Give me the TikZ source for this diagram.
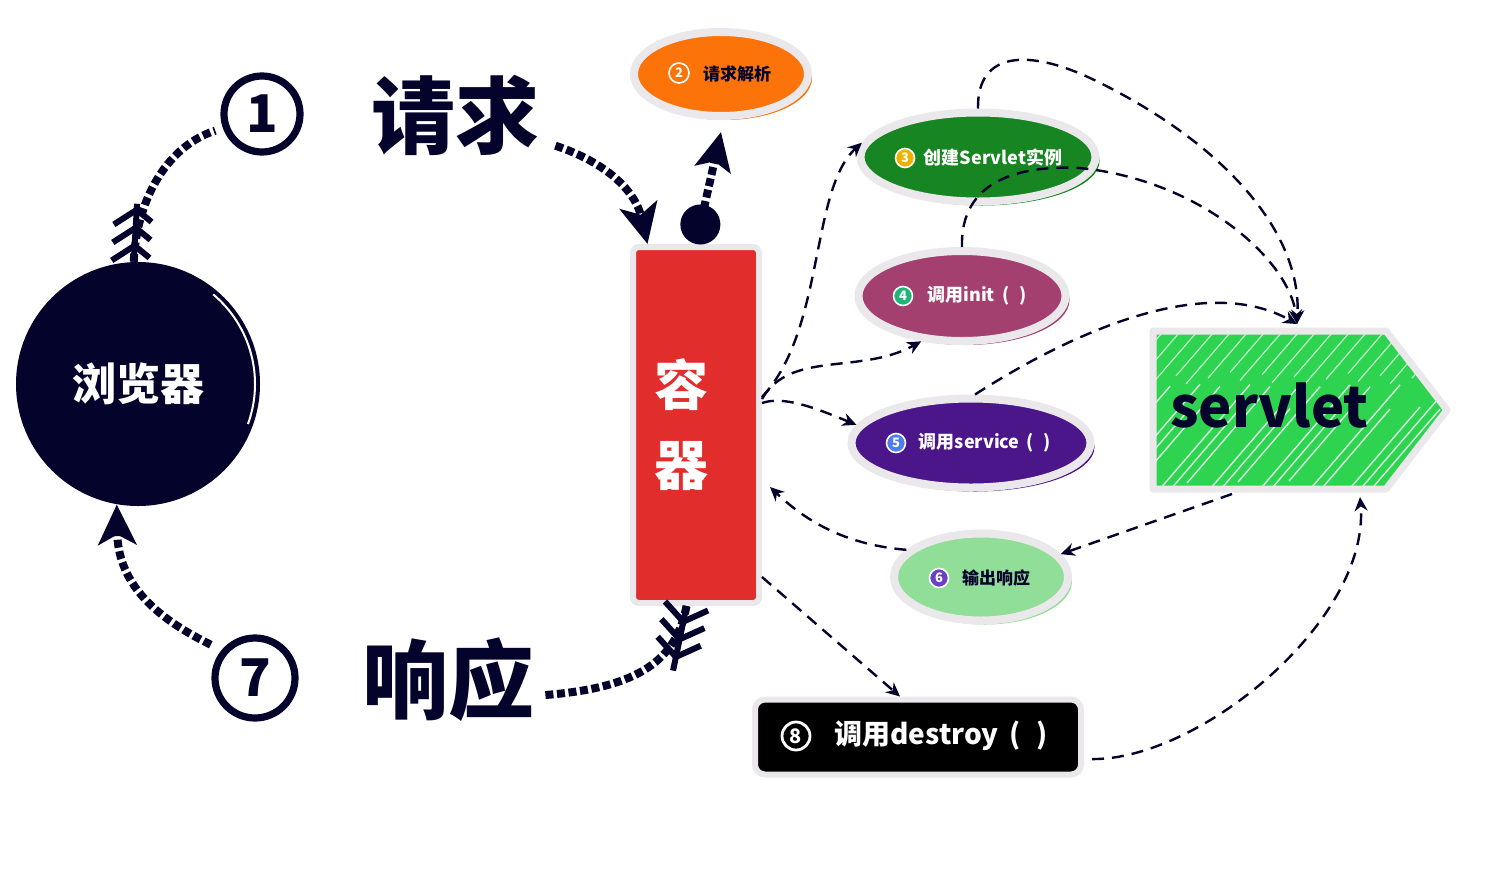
\documentclass[tikz,border=0pt]{standalone}
\usepackage{fontspec}
\setmainfont{Noto Sans CJK SC}
\usetikzlibrary{arrows.meta,shapes.geometric,decorations.markings}
\definecolor{navy}{HTML}{03032B}
\definecolor{ringgray}{HTML}{EBE8EC}
\definecolor{contred}{HTML}{E22D2D}
\definecolor{orangeA}{HTML}{FB7309}
\definecolor{greenA}{HTML}{178521}
\definecolor{plumA}{HTML}{A3406F}
\definecolor{purpleA}{HTML}{4B168A}
\definecolor{mintA}{HTML}{90DE98}
\definecolor{servgreen}{HTML}{2ED450}
\definecolor{badgeyellow}{HTML}{EDB100}
\definecolor{badgeteal}{HTML}{1FB574}
\definecolor{badgeblue}{HTML}{4D7DEF}
\definecolor{badgeviolet}{HTML}{6A40C4}
\newcommand{\parpair}{\hspace{0.4em}(\hspace{0.55em})}
\tikzset{
  ringed/.style={draw=ringgray, line width=4pt},
  ellnode/.style={ellipse, ringed, inner sep=0pt},
  thindash/.style={draw=navy, line width=1.2pt, dash pattern=on 6pt off 4pt, -{Stealth[length=7pt,width=6.5pt]}},
  fatdots/.style={draw=navy, line width=4pt, dash pattern=on 4pt off 1.8pt},
  fletch/.style={postaction={decorate, decoration={markings, mark=at position 1pt with {
      \draw[-, solid, navy, line width=3pt] (-1pt,0pt) -- (32pt,0pt);
      \foreach \d/\e in {7/-1,16/8,25/17}{\draw[-, solid, navy, line width=3pt] (\e pt,11pt) -- (\d pt,0pt) -- (\e pt,-11pt);}
  }}}},
  badge/.style={circle, draw=white, line width=0.8pt, minimum size=9.5pt, inner sep=0pt, text=white, font=\bfseries\fontsize{6.5}{6.5}\selectfont},
  lbl/.style={inner sep=0pt, font=\bfseries\fontsize{8.5}{9}\selectfont},
  bignum/.style={circle, draw=navy, line width=3.6pt, minimum size=38pt, inner sep=0pt, text=navy, font=\bfseries\fontsize{26}{26}\selectfont},
  bigword/.style={inner sep=0pt, text=navy, font=\bfseries\fontsize{42}{42}\selectfont},
}
\begin{document}
\begin{tikzpicture}[x=0.5pt,y=-0.5pt]
\fill[white] (0,0) rectangle (1492,868);
\useasboundingbox (0,0) rectangle (1492,868);

% browser
\node[circle, fill=navy, minimum size=122pt, inner sep=0pt, text=white, font=\bfseries\fontsize{22}{22}\selectfont] (brow) at (138,384) {浏览器};
\draw[white, line width=1pt] (138,384) ++(-50:117) arc (-50:20:117);

% container
\node[rectangle, fill=contred, draw=ringgray, line width=3pt, rounded corners=3pt, minimum width=63pt, minimum height=178pt, inner sep=0pt] (cont) at (696,425) {};
\node[align=center, text=white, inner sep=0pt, font=\bfseries\fontsize{27}{40}\selectfont] (conttxt) at (681,425) {容\\器};

% ellipses (offset shadow fills first)
\fill[orangeA] (725,78) ellipse [x radius=43.5pt, y radius=21pt];
\node[ellnode, fill=orangeA, minimum width=87pt, minimum height=42pt] (n2) at (721,74) {};
\fill[greenA] (982,161) ellipse [x radius=58.75pt, y radius=22.25pt];
\node[ellnode, fill=greenA, minimum width=117.5pt, minimum height=44.5pt] (n3) at (978,157) {};
\fill[plumA] (966,300) ellipse [x radius=51.75pt, y radius=22.5pt];
\node[ellnode, fill=plumA, minimum width=103.5pt, minimum height=45pt] (n4) at (962,296) {};
\fill[purpleA] (975,447) ellipse [x radius=59.75pt, y radius=22.25pt];
\node[ellnode, fill=purpleA, minimum width=119.5pt, minimum height=44.5pt] (n5) at (971,443) {};
\fill[mintA] (985,581) ellipse [x radius=43.5pt, y radius=21.75pt];
\node[ellnode, fill=mintA, minimum width=87pt, minimum height=43.5pt] (n6) at (981,577) {};
\node[rectangle, fill=black, draw=ringgray, line width=3pt, rounded corners=5pt, minimum width=163pt, minimum height=37.5pt, inner sep=0pt] (n8) at (918,737) {};

% badges and labels
\node[badge, minimum size=10pt] (b2) at (679,73) {2};
\node[lbl, text=navy] (t2) at (737,74) {请求解析};
\node[badge, fill=badgeyellow] (b3) at (905,158) {3};
\node[lbl, text=white, font=\bfseries\fontsize{9}{9}\selectfont] (t3) at (993,158) {创建Servlet实例};
\node[badge, fill=badgeteal] (b4) at (903,296) {4};
\node[lbl, text=white, font=\bfseries\fontsize{9}{9}\selectfont] (t4) at (977,296) {调用init\parpair};
\node[badge, fill=badgeblue] (b5) at (896,443) {5};
\node[lbl, text=white, font=\bfseries\fontsize{9}{9}\selectfont] (t5) at (985,443) {调用service\parpair};
\node[badge, fill=badgeviolet] (b6) at (939,578) {6};
\node[lbl, text=navy] (t6) at (996,578) {输出响应};
\node[badge, minimum size=14pt, line width=1.4pt, font=\bfseries\fontsize{10}{10}\selectfont] (b8) at (796,736) {8};
\node[lbl, text=white, font=\bfseries\fontsize{14}{15}\selectfont] (t8) at (941,736) {调用destroy\parpair};

% servlet arrow shape
\coordinate (sv1) at (1153,331);
\coordinate (sv2) at (1386,331);
\coordinate (sv3) at (1447,410);
\coordinate (sv4) at (1386,489);
\coordinate (sv5) at (1153,489);
\fill[servgreen] (sv1) -- (sv2) -- (sv3) -- (sv4) -- (sv5) -- cycle;
\begin{scope}
\clip (sv1) -- (sv2) -- (sv3) -- (sv4) -- (sv5) -- cycle;
\foreach \i in {0,...,30}{
  \draw[white, line width=0.7pt, opacity=0.8] ({1000+\i*17},{500-mod(\i*7,20)}) -- ++({60+mod(\i*13,40)},{-70-mod(\i*13,40)*1.15});
  \draw[white, line width=0.6pt, opacity=0.7] ({1100+\i*17+mod(\i*5,12)},{385-mod(\i*5,12)*1.15}) -- ++({50+mod(\i*11,45)},{-58-mod(\i*11,45)*1.15});
}
\end{scope}
\draw[ringgray, line width=3.5pt, line join=round] (sv1) -- (sv2) -- (sv3) -- (sv4) -- (sv5) -- cycle;
\node[anchor=base west, inner sep=0pt, text=navy, font=\bfseries\fontsize{28}{28}\selectfont] (svtxt) at (1170,427) {servlet};
\coordinate (svtop) at (1297,324);
\coordinate (svbotA) at (1232,494);
\coordinate (svbotB) at (1360,497);

% big labels
\node[bignum] (num1) at (262,114) {1};
\node[bigword] (req) at (455,115) {请求};
\node[bignum, minimum size=40pt] (num7) at (255,678) {7};
\node[bigword, font=\bfseries\fontsize{43}{43}\selectfont] (resp) at (448,680) {响应};

% thick dotted connectors
\draw[fatdots, fletch, shorten >=4pt] (brow.92) .. controls (137,195) and (170,145) .. (num1.200);
\draw[fatdots, -{Stealth[length=20pt,width=19pt,inset=5pt]}] ([xshift=8pt]req.-20) .. controls (605,162) and (635,190) .. (cont.105);
\draw[fatdots, fletch] (cont.-93) .. controls (676,660) and (640,688) .. ([xshift=4pt]resp.-10);
\draw[fatdots, shorten <=6pt, -{Stealth[length=20pt,width=19pt,inset=5pt]}] (num7.140) .. controls (150,615) and (118,580) .. (brow.-100);
\draw[fatdots, {Circle[length=20pt]}-{Stealth[length=19pt,width=18pt,inset=4pt]}] (cont.north) -- ([yshift=-6pt]n2.south);

% thin dashed connectors
\draw[thindash] ([yshift=14pt]cont.east) .. controls (825,330) and (810,190) .. (n3.173);
\draw[thindash] ([yshift=13pt]cont.east) .. controls (790,350) and (860,375) .. (n4.-132);
\draw[thindash] ([yshift=11pt]cont.east) .. controls (785,395) and (820,410) .. (n5.171);
\draw[thindash] (n6.160) .. controls (850,545) and (810,525) .. ([xshift=4pt,yshift=-31pt]cont.east);
\draw[thindash] ([yshift=-76pt]cont.east) -- ([xshift=-9pt]n8.north);
\draw[thindash] (n3.north) .. controls (977,50) and (1030,50) .. (1090,78) .. controls (1220,140) and (1302,230) .. (svtop);
\draw[thindash] (n4.north) .. controls (960,180) and (1020,165) .. (1080,168) .. controls (1200,180) and (1290,260) .. (svtop);
\draw[thindash] ([xshift=2pt]n5.north) .. controls (1060,340) and (1200,270) .. (svtop);
\draw[thindash] (svbotA) -- (n6.16);
\draw[thindash, shorten <=4pt] ([yshift=-11pt]n8.east) .. controls (1200,760) and (1370,620) .. (svbotB);
\end{tikzpicture}
\end{document}
